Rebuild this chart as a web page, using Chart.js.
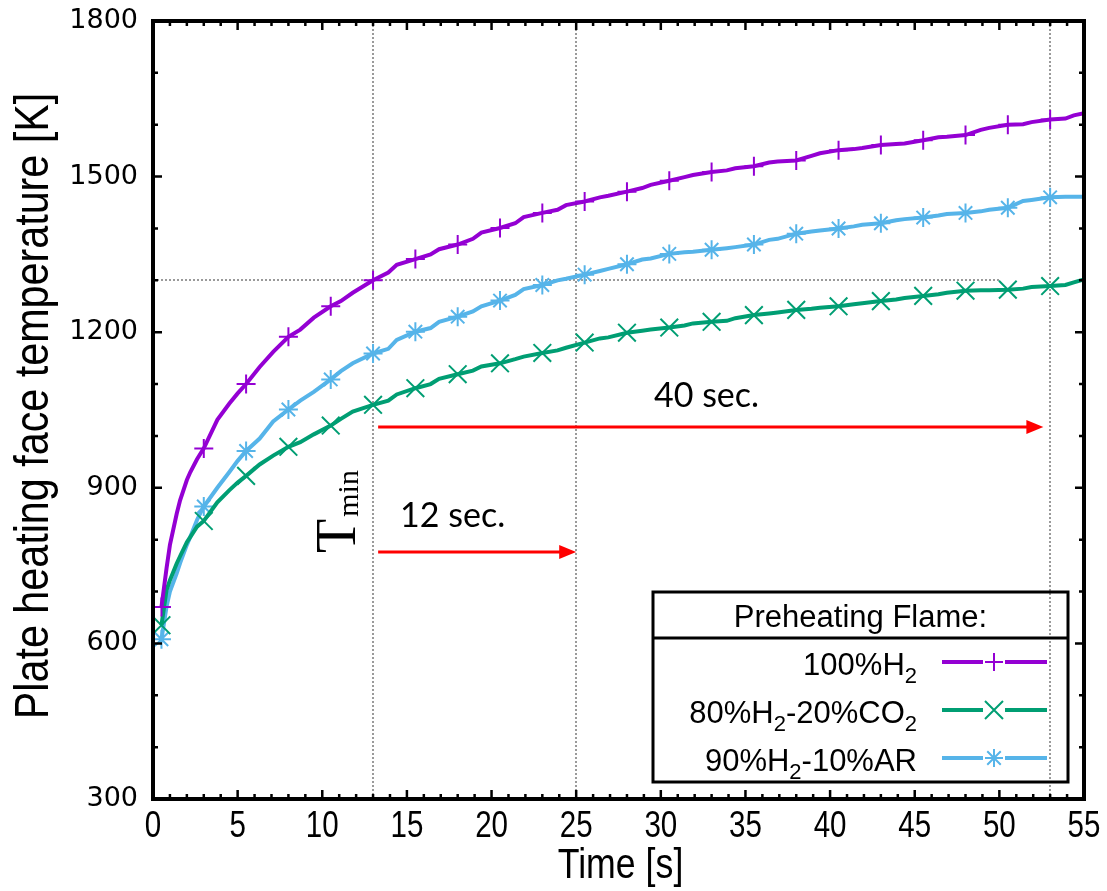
<!DOCTYPE html>
<html>
<head>
<meta charset="utf-8">
<script src="https://cdn.jsdelivr.net/npm/chart.js@4.4.1/dist/chart.umd.min.js"></script>
<style>
  html, body { margin: 0; padding: 0; background: #fff; }
  #wrap { width: 1107px; height: 891px; position: relative; }
</style>
</head>
<body>
<div id="wrap"><canvas id="myChart"></canvas></div>
<script>
// time axis [s], shared by the three series
const timeS = [0.5, 0.8, 1.0, 1.4, 1.6, 2.0, 2.2, 2.6, 3.0, 3.8, 4.5, 5.0, 5.5, 6.3, 7.1, 8.0, 8.7, 9.5, 10.5, 11.1, 11.8,
  13.0, 13.9, 14.4, 15.5, 16.4, 16.9, 18.0, 18.9, 19.4, 20.5, 21.4, 21.9, 23.0, 23.9, 24.4, 25.5, 26.4, 26.9, 28.0,
  28.9, 29.4, 30.5, 31.4, 31.9, 33.0, 33.9, 34.4, 35.5, 36.4, 36.9, 38.0, 38.9, 39.4, 40.5, 41.4, 41.9, 43.0,
  43.9, 44.4, 45.5, 46.4, 46.9, 48.0, 48.9, 49.4, 50.5, 51.4, 51.9, 53.0, 53.9, 54.4, 55.0];

// plate temperature [K]
const h2Full = [670, 745, 790, 850, 876, 915, 930, 955, 976, 1031, 1062, 1082, 1100, 1133, 1162, 1191, 1205, 1228, 1250, 1260, 1276,
  1300, 1315, 1330, 1341, 1350, 1360, 1369, 1380, 1392, 1401, 1410, 1422, 1430, 1436, 1445, 1452, 1460, 1463, 1471,
  1478, 1484, 1492, 1499, 1503, 1509, 1512, 1516, 1520, 1527, 1529, 1531, 1540, 1545, 1551, 1553, 1555, 1561,
  1563, 1564, 1570, 1576, 1577, 1580, 1590, 1594, 1600, 1601, 1605, 1610, 1612, 1618, 1622];
const h2Co2 = [635, 703, 722, 754, 768, 795, 805, 825, 836, 872, 895, 910, 923, 945, 962, 979, 988, 1003, 1020, 1033, 1047,
  1060, 1068, 1080, 1092, 1100, 1110, 1119, 1126, 1134, 1140, 1148, 1153, 1160, 1165, 1170, 1180, 1188, 1190, 1199,
  1203, 1205, 1209, 1213, 1217, 1220, 1222, 1227, 1233, 1236, 1238, 1243, 1245, 1247, 1250, 1254, 1256, 1260,
  1263, 1266, 1270, 1273, 1276, 1280, 1281, 1281, 1282, 1284, 1287, 1289, 1291, 1296, 1302];
const h2Ar = [608, 671, 700, 735, 755, 790, 805, 838, 864, 900, 930, 952, 971, 995, 1028, 1051, 1068, 1085, 1109, 1125, 1140,
  1159, 1168, 1185, 1201, 1208, 1220, 1230, 1240, 1250, 1261, 1272, 1283, 1291, 1300, 1303, 1311, 1318, 1322, 1331,
  1340, 1342, 1351, 1354, 1355, 1359, 1362, 1364, 1369, 1378, 1380, 1390, 1394, 1396, 1400, 1404, 1407, 1410,
  1416, 1418, 1421, 1425, 1428, 1430, 1433, 1436, 1440, 1453, 1455, 1460, 1461, 1461, 1461];

// times that carry a marker symbol
const markTimes = [0.5, 3, 5.5, 8, 10.5, 13, 15.5, 18, 20.5, 23, 25.5, 28, 30.5, 33, 35.5, 38, 40.5, 43, 45.5, 48, 50.5, 53];

const seriesNames = ['100%H_2', '80%H_2-20%CO_2', '90%H_2-10%AR'];
const seriesColors = ['#9400d3', '#009e73', '#56b4e9'];
const seriesMarks = ['cross', 'crossRot', 'star'];
const legendTitle = 'Preheating Flame:';

const xTicks = [0, 5, 10, 15, 20, 25, 30, 35, 40, 45, 50, 55];
const yTicks = [300, 600, 900, 1200, 1500, 1800];

// guide lines and arrows
const vLines = [13, 25, 53];
const hLine = [0, 50, 1300];          // from t, to t, at T
const arrow40 = [13.3, 52.6, 1017];   // from t, to t, at T
const arrow12 = [13.3, 25, 776];
const arrowText = [['40 sec.', 32.7, 1055], ['12 sec.', 17.7, 824]];

const isMark = t => markTimes.some(m => Math.abs(m - t) < 1e-6);

function drawMarker(ctx, style, cx, cy, r) {
  ctx.beginPath();
  if (style === 'cross' || style === 'star') {
    ctx.moveTo(cx - r, cy); ctx.lineTo(cx + r, cy);
    ctx.moveTo(cx, cy - r); ctx.lineTo(cx, cy + r);
  }
  if (style === 'crossRot' || style === 'star') {
    const d = style === 'star' ? r * 0.75 : r;
    ctx.moveTo(cx - d, cy - d); ctx.lineTo(cx + d, cy + d);
    ctx.moveTo(cx - d, cy + d); ctx.lineTo(cx + d, cy - d);
  }
  ctx.stroke();
}

// text with "_x" meaning subscript x
function subParts(s) {
  const out = [];
  let buf = '';
  for (let i = 0; i < s.length; i++) {
    if (s[i] === '_') { if (buf) out.push([buf, false]); buf = ''; out.push([s[i + 1], true]); i++; }
    else buf += s[i];
  }
  if (buf) out.push([buf, false]);
  return out;
}

function drawSubText(ctx, s, xRight, base, size) {
  const parts = subParts(s);
  const big = size + 'px "Liberation Sans", Arial, sans-serif';
  const small = Math.round(size * 0.7) + 'px "Liberation Sans", Arial, sans-serif';
  let w = 0;
  parts.forEach(p => { ctx.font = p[1] ? small : big; w += ctx.measureText(p[0]).width; });
  let x = xRight - w;
  ctx.textAlign = 'left';
  ctx.textBaseline = 'alphabetic';
  parts.forEach(p => {
    ctx.font = p[1] ? small : big;
    ctx.fillText(p[0], x, p[1] ? base + 8 : base);
    x += ctx.measureText(p[0]).width;
  });
}

// condensed text: squeeze horizontally around the anchor
function narrowText(ctx, s, cx, base, sx) {
  ctx.save();
  ctx.translate(cx, base);
  ctx.scale(sx, 1);
  ctx.fillText(s, 0, 0);
  ctx.restore();
}

function drawArrow(ctx, x0, x1, yy) {
  ctx.strokeStyle = '#ff0000';
  ctx.fillStyle = '#ff0000';
  ctx.lineWidth = 3;
  ctx.beginPath(); ctx.moveTo(x0, yy); ctx.lineTo(x1 - 14, yy); ctx.stroke();
  ctx.beginPath(); ctx.moveTo(x1, yy); ctx.lineTo(x1 - 17, yy - 7); ctx.lineTo(x1 - 17, yy + 7); ctx.closePath(); ctx.fill();
}

const overlay = {
  id: 'overlay',
  beforeDatasetsDraw(chart) {
    const { ctx, chartArea: a, scales: { x, y } } = chart;
    ctx.save();
    ctx.strokeStyle = '#9a9a9a';
    ctx.lineWidth = 2;
    ctx.setLineDash([2, 2]);
    vLines.forEach(t => {
      const px = Math.round(x.getPixelForValue(t));
      ctx.beginPath(); ctx.moveTo(px, a.top); ctx.lineTo(px, a.bottom); ctx.stroke();
    });
    const hy = Math.round(y.getPixelForValue(hLine[2]));
    ctx.beginPath(); ctx.moveTo(x.getPixelForValue(hLine[0]), hy); ctx.lineTo(x.getPixelForValue(hLine[1]), hy); ctx.stroke();
    ctx.restore();
  },
  afterDraw(chart) {
    const { ctx, chartArea: a, scales: { x, y } } = chart;
    ctx.save();

    // border + inward ticks on all sides
    ctx.strokeStyle = '#000';
    ctx.lineWidth = 2.5;
    for (let t = 0; t <= 55; t++) {
      const px = x.getPixelForValue(t), len = t % 5 === 0 ? 9 : 5;
      ctx.beginPath();
      ctx.moveTo(px, a.bottom); ctx.lineTo(px, a.bottom - len);
      ctx.moveTo(px, a.top); ctx.lineTo(px, a.top + len);
      ctx.stroke();
    }
    for (let v = 300; v <= 1800; v += 100) {
      const py = y.getPixelForValue(v), len = v % 300 === 0 ? 9 : 5;
      ctx.beginPath();
      ctx.moveTo(a.left, py); ctx.lineTo(a.left + len, py);
      ctx.moveTo(a.right, py); ctx.lineTo(a.right - len, py);
      ctx.stroke();
    }
    ctx.lineWidth = 4;
    ctx.strokeRect(a.left, a.top, a.right - a.left, a.bottom - a.top);

    // x tick labels (condensed face)
    ctx.fillStyle = '#000';
    ctx.textAlign = 'center';
    ctx.textBaseline = 'alphabetic';
    ctx.font = '36px "Liberation Sans", Arial, sans-serif';
    xTicks.forEach(v => narrowText(ctx, String(v), x.getPixelForValue(v), 837, 0.82));

    // arrows and their labels
    [arrow40, arrow12].forEach(r => drawArrow(ctx, x.getPixelForValue(r[0]), x.getPixelForValue(r[1]), Math.round(y.getPixelForValue(r[2]))));
    ctx.fillStyle = '#000';
    ctx.font = '34px Lato, "Open Sans", sans-serif';
    arrowText.forEach(r => ctx.fillText(r[0], x.getPixelForValue(r[1]), y.getPixelForValue(r[2])));

    // T_min, rotated
    ctx.save();
    ctx.translate(355, 553);
    ctx.rotate(-Math.PI / 2);
    ctx.textAlign = 'left';
    ctx.font = '56px "Liberation Serif", serif';
    ctx.fillText('T', 0, 0);
    const wT = ctx.measureText('T').width;
    ctx.font = '30px "Liberation Serif", serif';
    ctx.fillText('min', wT + 2, 3);
    ctx.restore();

    // axis titles
    ctx.textAlign = 'center';
    ctx.font = '42px "Liberation Sans", sans-serif';
    narrowText(ctx, 'Time [s]', (a.left + a.right) / 2 + 2, 878, 0.85);
    ctx.save();
    ctx.translate(48, 406);
    ctx.rotate(-Math.PI / 2);
    ctx.scale(0.86, 1);
    ctx.font = '48px "Liberation Sans", sans-serif';
    ctx.fillText('Plate heating face temperature [K]', 0, 0);
    ctx.restore();

    // legend box
    const L = 653, R = 1068, T = 592, B = 782, head = 638;
    ctx.lineWidth = 3;
    ctx.strokeStyle = '#000';
    ctx.strokeRect(L, T, R - L, B - T);
    ctx.beginPath(); ctx.moveTo(L, head); ctx.lineTo(R, head); ctx.stroke();
    ctx.font = '31px "Liberation Sans", Arial, sans-serif';
    ctx.textAlign = 'center';
    ctx.fillText(legendTitle, (L + R) / 2, 627);
    seriesNames.forEach((name, i) => {
      const ly = 662 + i * 48;
      ctx.fillStyle = '#000';
      drawSubText(ctx, name, 917, ly + 13, 31);
      ctx.strokeStyle = seriesColors[i];
      ctx.lineWidth = 4;
      ctx.beginPath(); ctx.moveTo(942, ly); ctx.lineTo(983, ly); ctx.moveTo(1005, ly); ctx.lineTo(1047, ly); ctx.stroke();
      ctx.lineWidth = 2;
      drawMarker(ctx, seriesMarks[i], 994, ly, 9);
    });

    ctx.restore();
  }
};

const datasets = [h2Full, h2Co2, h2Ar].map((vals, i) => ({
  label: seriesNames[i].replace(/_/g, ''),
  data: timeS.map((t, k) => ({ x: t, y: vals[k] })),
  borderColor: seriesColors[i],
  backgroundColor: seriesColors[i],
  borderWidth: 4,
  tension: 0,
  pointStyle: seriesMarks[i],
  pointRadius: c => (c.raw && isMark(c.raw.x)) ? (seriesMarks[i] === 'crossRot' ? 12.5 : 9.5) : 0,
  pointBorderWidth: 2,
  pointHoverRadius: 0
}));

const ctx = document.getElementById('myChart').getContext('2d');
const chart = new Chart(ctx, {
  type: 'line',
  data: { datasets: datasets },
  options: {
    responsive: true,
    maintainAspectRatio: false,
    animation: false,
    events: [],
    layout: { padding: { left: 0, right: 23, top: 21, bottom: 0 } },
    plugins: { legend: { display: false }, tooltip: { enabled: false } },
    scales: {
      x: {
        type: 'linear',
        min: 0,
        max: 55,
        afterFit: s => { s.height = 92; s.paddingLeft = 0; s.paddingRight = 0; },
        afterBuildTicks: s => { s.ticks = xTicks.map(v => ({ value: v })); },
        grid: { display: false, drawTicks: false },
        border: { display: false },
        ticks: { display: false }
      },
      y: {
        min: 300,
        max: 1800,
        afterFit: s => { s.width = 153; s.paddingTop = 0; s.paddingBottom = 0; },
        afterBuildTicks: s => { s.ticks = yTicks.map(v => ({ value: v })); },
        grid: { display: false, drawTicks: false },
        border: { display: false },
        ticks: {
          padding: 15,
          color: '#000',
          callback: v => String(v),
          font: { family: '"DejaVu Sans", Verdana, sans-serif', size: 27 }
        }
      }
    }
  },
  plugins: [overlay]
});
</script>
</body>
</html>
